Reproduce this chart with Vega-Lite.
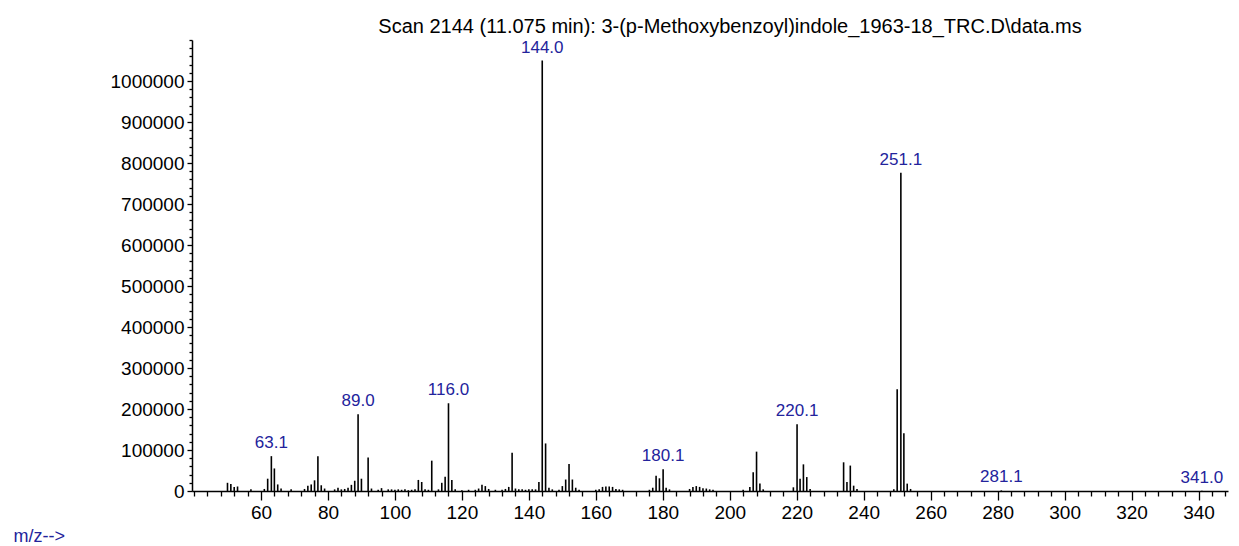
{
  "$schema": "https://vega.github.io/schema/vega-lite/v6.json",
  "autosize": {"type": "none"},
  "width": 1036,
  "height": 451,
  "padding": {"left": 192, "top": 40, "right": 11, "bottom": 55},
  "background": "white",
  "title": {
    "text": "Scan 2144 (11.075 min): 3-(p-Methoxybenzoyl)indole_1963-18_TRC.D\\data.ms",
    "anchor": "middle",
    "frame": "group",
    "dx": 20,
    "dy": 24,
    "offset": 10,
    "baseline": "alphabetic",
    "font": "Liberation Sans",
    "fontSize": 20,
    "fontWeight": "normal",
    "color": "black"
  },
  "data": {
    "values": [
      {"mz": 50, "abundance": 20000, "label": ""},
      {"mz": 51, "abundance": 17000, "label": ""},
      {"mz": 52, "abundance": 10000, "label": ""},
      {"mz": 53, "abundance": 11000, "label": ""},
      {"mz": 57, "abundance": 4000, "label": ""},
      {"mz": 61, "abundance": 5000, "label": ""},
      {"mz": 62, "abundance": 30000, "label": ""},
      {"mz": 63.1, "abundance": 85000, "label": "63.1"},
      {"mz": 64, "abundance": 55000, "label": ""},
      {"mz": 65, "abundance": 16000, "label": ""},
      {"mz": 66, "abundance": 6000, "label": ""},
      {"mz": 69, "abundance": 4000, "label": ""},
      {"mz": 73, "abundance": 5000, "label": ""},
      {"mz": 74, "abundance": 13000, "label": ""},
      {"mz": 75, "abundance": 16000, "label": ""},
      {"mz": 76, "abundance": 26000, "label": ""},
      {"mz": 77, "abundance": 85000, "label": ""},
      {"mz": 78, "abundance": 14000, "label": ""},
      {"mz": 79, "abundance": 6000, "label": ""},
      {"mz": 82, "abundance": 4000, "label": ""},
      {"mz": 83, "abundance": 8000, "label": ""},
      {"mz": 84, "abundance": 4000, "label": ""},
      {"mz": 85, "abundance": 5000, "label": ""},
      {"mz": 86, "abundance": 8000, "label": ""},
      {"mz": 87, "abundance": 15000, "label": ""},
      {"mz": 88, "abundance": 25000, "label": ""},
      {"mz": 89.0, "abundance": 187000, "label": "89.0"},
      {"mz": 90, "abundance": 30000, "label": ""},
      {"mz": 92, "abundance": 82000, "label": ""},
      {"mz": 93, "abundance": 6000, "label": ""},
      {"mz": 95, "abundance": 3000, "label": ""},
      {"mz": 96, "abundance": 7000, "label": ""},
      {"mz": 98, "abundance": 4000, "label": ""},
      {"mz": 99, "abundance": 4000, "label": ""},
      {"mz": 100, "abundance": 3000, "label": ""},
      {"mz": 101, "abundance": 4000, "label": ""},
      {"mz": 102, "abundance": 3000, "label": ""},
      {"mz": 103, "abundance": 4000, "label": ""},
      {"mz": 104, "abundance": 2000, "label": ""},
      {"mz": 105, "abundance": 3000, "label": ""},
      {"mz": 106, "abundance": 4000, "label": ""},
      {"mz": 107, "abundance": 27000, "label": ""},
      {"mz": 108, "abundance": 22000, "label": ""},
      {"mz": 109, "abundance": 4000, "label": ""},
      {"mz": 110, "abundance": 3000, "label": ""},
      {"mz": 111, "abundance": 74000, "label": ""},
      {"mz": 113, "abundance": 4000, "label": ""},
      {"mz": 114, "abundance": 20000, "label": ""},
      {"mz": 115, "abundance": 35000, "label": ""},
      {"mz": 116.0, "abundance": 214000, "label": "116.0"},
      {"mz": 117, "abundance": 27000, "label": ""},
      {"mz": 118, "abundance": 4000, "label": ""},
      {"mz": 120, "abundance": 2000, "label": ""},
      {"mz": 122, "abundance": 3000, "label": ""},
      {"mz": 124, "abundance": 3000, "label": ""},
      {"mz": 125, "abundance": 6000, "label": ""},
      {"mz": 126, "abundance": 15000, "label": ""},
      {"mz": 127, "abundance": 12000, "label": ""},
      {"mz": 128, "abundance": 5000, "label": ""},
      {"mz": 130, "abundance": 3000, "label": ""},
      {"mz": 132, "abundance": 3000, "label": ""},
      {"mz": 133, "abundance": 5000, "label": ""},
      {"mz": 134, "abundance": 10000, "label": ""},
      {"mz": 135, "abundance": 93000, "label": ""},
      {"mz": 136, "abundance": 6000, "label": ""},
      {"mz": 137, "abundance": 4000, "label": ""},
      {"mz": 138, "abundance": 4000, "label": ""},
      {"mz": 139, "abundance": 3000, "label": ""},
      {"mz": 140, "abundance": 4000, "label": ""},
      {"mz": 141, "abundance": 4000, "label": ""},
      {"mz": 142, "abundance": 4000, "label": ""},
      {"mz": 143, "abundance": 22000, "label": ""},
      {"mz": 144.0, "abundance": 1050000, "label": "144.0"},
      {"mz": 145, "abundance": 116000, "label": ""},
      {"mz": 146, "abundance": 8000, "label": ""},
      {"mz": 147, "abundance": 4000, "label": ""},
      {"mz": 149, "abundance": 3000, "label": ""},
      {"mz": 150, "abundance": 12000, "label": ""},
      {"mz": 151, "abundance": 28000, "label": ""},
      {"mz": 152, "abundance": 66000, "label": ""},
      {"mz": 153, "abundance": 28000, "label": ""},
      {"mz": 154, "abundance": 8000, "label": ""},
      {"mz": 155, "abundance": 3000, "label": ""},
      {"mz": 160, "abundance": 3000, "label": ""},
      {"mz": 161, "abundance": 4000, "label": ""},
      {"mz": 162, "abundance": 10000, "label": ""},
      {"mz": 163, "abundance": 11000, "label": ""},
      {"mz": 164, "abundance": 11000, "label": ""},
      {"mz": 165, "abundance": 10000, "label": ""},
      {"mz": 166, "abundance": 5000, "label": ""},
      {"mz": 167, "abundance": 4000, "label": ""},
      {"mz": 168, "abundance": 3000, "label": ""},
      {"mz": 176, "abundance": 3000, "label": ""},
      {"mz": 177, "abundance": 8000, "label": ""},
      {"mz": 178, "abundance": 37000, "label": ""},
      {"mz": 179, "abundance": 31000, "label": ""},
      {"mz": 180.1, "abundance": 53000, "label": "180.1"},
      {"mz": 181, "abundance": 8000, "label": ""},
      {"mz": 182, "abundance": 4000, "label": ""},
      {"mz": 188, "abundance": 5000, "label": ""},
      {"mz": 189, "abundance": 10000, "label": ""},
      {"mz": 190, "abundance": 12000, "label": ""},
      {"mz": 191, "abundance": 10000, "label": ""},
      {"mz": 192, "abundance": 7000, "label": ""},
      {"mz": 193, "abundance": 6000, "label": ""},
      {"mz": 194, "abundance": 4000, "label": ""},
      {"mz": 195, "abundance": 3000, "label": ""},
      {"mz": 204, "abundance": 3000, "label": ""},
      {"mz": 206, "abundance": 10000, "label": ""},
      {"mz": 207, "abundance": 46000, "label": ""},
      {"mz": 208, "abundance": 96000, "label": ""},
      {"mz": 209, "abundance": 18000, "label": ""},
      {"mz": 210, "abundance": 4000, "label": ""},
      {"mz": 219, "abundance": 9000, "label": ""},
      {"mz": 220.1, "abundance": 163000, "label": "220.1"},
      {"mz": 221, "abundance": 30000, "label": ""},
      {"mz": 222, "abundance": 65000, "label": ""},
      {"mz": 223, "abundance": 34000, "label": ""},
      {"mz": 224, "abundance": 5000, "label": ""},
      {"mz": 234, "abundance": 70000, "label": ""},
      {"mz": 235, "abundance": 22000, "label": ""},
      {"mz": 236, "abundance": 62000, "label": ""},
      {"mz": 237, "abundance": 13000, "label": ""},
      {"mz": 238, "abundance": 5000, "label": ""},
      {"mz": 249, "abundance": 4000, "label": ""},
      {"mz": 250, "abundance": 248000, "label": ""},
      {"mz": 251.1, "abundance": 776000, "label": "251.1"},
      {"mz": 252, "abundance": 141000, "label": ""},
      {"mz": 253, "abundance": 18000, "label": ""},
      {"mz": 254, "abundance": 5000, "label": ""},
      {"mz": 281.1, "abundance": 1500, "label": "281.1"},
      {"mz": 341.0, "abundance": 800, "label": "341.0"}
    ]
  },
  "resolve": {"axis": {"x": "independent", "y": "independent"}},
  "layer": [
    {
      "mark": {"type": "rule", "color": "black", "strokeWidth": 1.6},
      "encoding": {
        "x": {
          "field": "mz",
          "type": "quantitative",
          "scale": {"domain": [39.4, 348.8], "nice": false, "zero": false},
          "axis": {
            "orient": "bottom",
            "title": "m/z-->",
            "titleX": -179,
            "titleY": 45,
            "titleAlign": "left",
            "titleBaseline": "middle",
            "titleAnchor": null,
            "titleColor": "#23239c",
            "titleFont": "Liberation Sans",
            "titleFontSize": 18,
            "titleFontWeight": "normal",
            "values": [60,80,100,120,140,160,180,200,220,240,260,280,300,320,340],
            "labelOverlap": false,
            "labelFlush": false,
            "labelFont": "Liberation Sans",
            "labelFontSize": 19,
            "labelColor": "black",
            "labelPadding": 3,
            "tickSize": 9,
            "tickColor": "black",
            "tickWidth": 1.3,
            "domainColor": "black",
            "domainWidth": 1.5,
            "grid": false
          }
        },
        "y": {
          "field": "abundance",
          "type": "quantitative",
          "scale": {"domain": [0, 1100000], "nice": false},
          "axis": {
            "orient": "left",
            "title": null,
            "values": [0,100000,200000,300000,400000,500000,600000,700000,800000,900000,1000000],
            "format": "d",
            "labelOverlap": false,
            "labelFlush": false,
            "labelFont": "Liberation Sans",
            "labelFontSize": 19,
            "labelColor": "black",
            "labelPadding": 3,
            "tickSize": 5,
            "tickColor": "black",
            "tickWidth": 1.3,
            "domainColor": "black",
            "domainWidth": 1.5,
            "grid": false
          }
        },
        "y2": {"datum": 0}
      }
    },
    {
      "transform": [{"filter": "datum.label !== ''"}],
      "mark": {
        "type": "text",
        "color": "#23239c",
        "font": "Liberation Sans",
        "fontSize": 17,
        "align": "center",
        "baseline": "alphabetic",
        "dy": -8
      },
      "encoding": {
        "x": {
          "field": "mz",
          "type": "quantitative",
          "axis": {
            "orient": "bottom",
            "title": null,
            "labels": false,
            "domain": false,
            "grid": false,
            "values": [40,44,48,52,56,64,68,72,76,84,88,92,96,104,108,112,116,124,128,132,136,144,148,152,156,164,168,172,176,184,188,192,196,204,208,212,216,224,228,232,236,244,248,252,256,264,268,272,276,284,288,292,296,304,308,312,316,324,328,332,336,344,348],
            "tickSize": 5,
            "tickColor": "black",
            "tickWidth": 1.3,
            "offset": 0
          }
        },
        "y": {
          "field": "abundance",
          "type": "quantitative",
          "axis": {
            "orient": "left",
            "title": null,
            "labels": false,
            "domain": false,
            "grid": false,
            "values": [20000,40000,60000,80000,120000,140000,160000,180000,220000,240000,260000,280000,320000,340000,360000,380000,420000,440000,460000,480000,520000,540000,560000,580000,620000,640000,660000,680000,720000,740000,760000,780000,820000,840000,860000,880000,920000,940000,960000,980000,1020000,1040000,1060000,1080000,1100000],
            "tickSize": 3,
            "tickColor": "black",
            "tickWidth": 1.3,
            "offset": 0
          }
        },
        "text": {"field": "label", "type": "nominal"}
      }
    }
  ],
  "config": {"view": {"stroke": null}}
}
